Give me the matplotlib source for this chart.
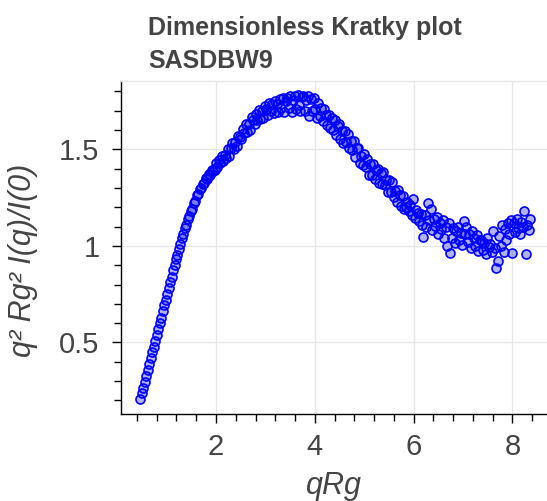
# -*- coding: utf-8 -*-
import matplotlib.pyplot as plt
from matplotlib.ticker import MultipleLocator, FuncFormatter

# ============================================================
# 1) DATA (read off the reference plot)
# ============================================================
qrg = [
    0.47, 0.50, 0.53, 0.56, 0.59, 0.62, 0.65, 0.68, 0.71, 0.74,
    0.77, 0.80, 0.83, 0.86, 0.89, 0.92, 0.95, 0.98, 1.01, 1.04,
    1.07, 1.10, 1.13, 1.16, 1.19, 1.22, 1.25, 1.28, 1.31, 1.34,
    1.37, 1.40, 1.43, 1.46, 1.49, 1.52, 1.55, 1.58, 1.61, 1.64,
    1.67, 1.70, 1.73, 1.76, 1.79, 1.82, 1.85, 1.88, 1.91, 1.94,
    1.97, 2.00, 2.03, 2.06, 2.09, 2.12, 2.15, 2.18, 2.21, 2.24,
    2.27, 2.30, 2.33, 2.36, 2.39, 2.42, 2.45, 2.48, 2.51, 2.54,
    2.57, 2.60, 2.63, 2.66, 2.69, 2.72, 2.75, 2.78, 2.81, 2.84,
    2.87, 2.90, 2.93, 2.96, 2.99, 3.02, 3.05, 3.08, 3.11, 3.14,
    3.17, 3.20, 3.23, 3.26, 3.29, 3.32, 3.35, 3.38, 3.41, 3.44,
    3.47, 3.50, 3.53, 3.56, 3.59, 3.62, 3.65, 3.68, 3.71, 3.74,
    3.77, 3.80, 3.83, 3.86, 3.89, 3.92, 3.95, 3.98, 4.01, 4.04,
    4.07, 4.10, 4.13, 4.16, 4.19, 4.22, 4.25, 4.28, 4.31, 4.34,
    4.37, 4.40, 4.43, 4.46, 4.49, 4.52, 4.55, 4.58, 4.61, 4.64,
    4.67, 4.70, 4.73, 4.76, 4.79, 4.82, 4.85, 4.88, 4.91, 4.94,
    4.97, 5.00, 5.03, 5.06, 5.09, 5.12, 5.15, 5.18, 5.21, 5.24,
    5.27, 5.30, 5.33, 5.36, 5.39, 5.42, 5.45, 5.48, 5.51, 5.54,
    5.57, 5.60, 5.63, 5.66, 5.69, 5.72, 5.75, 5.78, 5.81, 5.84,
    5.87, 5.90, 5.93, 5.96, 5.99, 6.02, 6.05, 6.08, 6.11, 6.14,
    6.17, 6.20, 6.23, 6.26, 6.29, 6.32, 6.35, 6.38, 6.41, 6.44,
    6.47, 6.50, 6.53, 6.56, 6.59, 6.62, 6.65, 6.68, 6.71, 6.74,
    6.77, 6.80, 6.83, 6.86, 6.89, 6.92, 6.95, 6.98, 7.01, 7.04,
    7.07, 7.10, 7.13, 7.16, 7.19, 7.22, 7.25, 7.28, 7.31, 7.34,
    7.37, 7.40, 7.43, 7.46, 7.49, 7.52, 7.55, 7.58, 7.61, 7.64,
    7.67, 7.70, 7.73, 7.76, 7.79, 7.82, 7.85, 7.88, 7.91, 7.94,
    7.97, 8.00, 8.03, 8.06, 8.09, 8.12, 8.15, 8.18, 8.21, 8.24,
    8.27, 8.30, 8.33, 8.36,
]

kratky = [
    0.206, 0.237, 0.266, 0.298, 0.328, 0.357, 0.389, 0.419, 0.449, 0.478,
    0.510, 0.538, 0.571, 0.601, 0.629, 0.662, 0.692, 0.720, 0.752, 0.783,
    0.813, 0.840, 0.873, 0.899, 0.930, 0.954, 0.985, 1.008, 1.039, 1.060,
    1.090, 1.106, 1.138, 1.152, 1.181, 1.193, 1.224, 1.233, 1.261, 1.268,
    1.294, 1.298, 1.322, 1.325, 1.350, 1.347, 1.372, 1.369, 1.392, 1.386,
    1.391, 1.427, 1.410, 1.446, 1.431, 1.464, 1.437, 1.468, 1.456, 1.499,
    1.466, 1.508, 1.531, 1.502, 1.537, 1.516, 1.568, 1.564, 1.551, 1.605,
    1.585, 1.628, 1.589, 1.633, 1.602, 1.665, 1.653, 1.630, 1.682, 1.653,
    1.703, 1.655, 1.698, 1.662, 1.723, 1.708, 1.679, 1.740, 1.698, 1.736,
    1.689, 1.750, 1.735, 1.692, 1.761, 1.711, 1.767, 1.694, 1.750, 1.766,
    1.713, 1.777, 1.694, 1.754, 1.775, 1.710, 1.780, 1.730, 1.700, 1.770,
    1.774, 1.698, 1.757, 1.777, 1.673, 1.760, 1.696, 1.767, 1.707, 1.661,
    1.740, 1.670, 1.713, 1.645, 1.707, 1.679, 1.625, 1.676, 1.612, 1.664,
    1.602, 1.650, 1.576, 1.622, 1.628, 1.555, 1.593, 1.530, 1.593, 1.535,
    1.578, 1.505, 1.545, 1.494, 1.543, 1.458, 1.507, 1.507, 1.431, 1.466,
    1.417, 1.475, 1.409, 1.448, 1.368, 1.425, 1.368, 1.421, 1.348, 1.392,
    1.396, 1.325, 1.379, 1.318, 1.382, 1.315, 1.343, 1.280, 1.342, 1.278,
    1.329, 1.255, 1.286, 1.227, 1.288, 1.264, 1.205, 1.256, 1.192, 1.203,
    1.228, 1.180, 1.212, 1.158, 1.240, 1.145, 1.186, 1.170, 1.128, 1.165,
    1.110, 1.045, 1.160, 1.095, 1.220, 1.135, 1.190, 1.080, 1.140, 1.102,
    1.150, 1.060, 1.120, 1.085, 1.135, 1.040, 1.100, 1.000, 1.118, 0.962,
    1.040, 1.090, 1.015, 1.075, 1.100, 1.030, 1.068, 1.005, 1.130, 1.060,
    1.095, 1.020, 1.060, 0.990, 1.075, 1.040, 1.000, 1.055, 0.975, 1.030,
    1.030, 0.980, 1.015, 0.960, 1.040, 0.995, 1.010, 0.970, 1.075, 0.990,
    0.885, 0.920, 1.050, 1.000, 1.110, 0.970, 1.085, 1.030, 1.120, 1.060,
    1.135, 0.965, 1.120, 1.070, 1.140, 1.090, 1.060, 1.125, 1.095, 1.180,
    0.958, 1.110, 1.080, 1.140,
]

title_lines = ["Dimensionless Kratky plot", "SASDBW9"]
x_label = "qRg"
y_label = "q² Rg² I(q)/I(0)"

# ============================================================
# 2) STYLE
# ============================================================
plt.rcParams["font.family"] = ["Liberation Sans", "DejaVu Sans"]
text_col = "#444444"
grid_col = "#e6e6e6"

W, H = 547, 501
fig = plt.figure(figsize=(W / 100, H / 100), dpi=100)
# axes box in pixels: left 121, right 547, top 81, bottom 414
ax = fig.add_axes([121 / W, 1 - 414 / H, (547 - 121) / W, (414 - 81) / H])

# ============================================================
# 3) PLOT
# ============================================================
ax.scatter(qrg, kratky, s=42, facecolor=(0, 0, 1, 0.3), edgecolor="blue",
           linewidth=1.2, zorder=3)

ax.set_xlim(0.077, 8.70)
ax.set_ylim(0.130, 1.853)

ax.xaxis.set_major_locator(MultipleLocator(2))
ax.xaxis.set_minor_locator(MultipleLocator(0.4))
ax.yaxis.set_major_locator(MultipleLocator(0.5))
ax.yaxis.set_minor_locator(MultipleLocator(0.1))
ax.yaxis.set_major_formatter(FuncFormatter(lambda v, p: f"{v:g}"))
ax.xaxis.set_major_formatter(FuncFormatter(lambda v, p: f"{v:g}"))

ax.grid(True, which="major", color=grid_col, linewidth=1.0, zorder=0)
ax.set_axisbelow(True)

for side in ("left", "bottom"):
    ax.spines[side].set_color("black")
    ax.spines[side].set_linewidth(1.0)
ax.spines["top"].set_color(grid_col)
ax.spines["top"].set_linewidth(1.0)
ax.spines["right"].set_visible(False)

ax.tick_params(which="major", direction="out", length=6.5, width=1.0,
               labelsize=21, labelcolor=text_col, color="black")
ax.tick_params(which="minor", direction="out", length=5, width=1.0,
               color="black")
ax.tick_params(axis="y", which="major", pad=9)
ax.tick_params(axis="x", which="major", pad=7)

ax.set_xlabel(x_label, fontsize=22, style="italic", color=text_col)
ax.set_ylabel(y_label, fontsize=22, style="italic", color=text_col)
ax.xaxis.set_label_coords(0.5, -0.17)
ax.yaxis.set_label_coords(-0.195, 0.46)

# two-line title, left aligned a little right of the axis
fig.text(148 / W, 1 - 35 / H, title_lines[0], fontsize=18, fontweight="bold",
         color=text_col, ha="left", va="baseline")
fig.text(148 / W, 1 - 68 / H, title_lines[1], fontsize=18, fontweight="bold",
         color=text_col, ha="left", va="baseline")

fig.savefig("out.png", dpi=100)
